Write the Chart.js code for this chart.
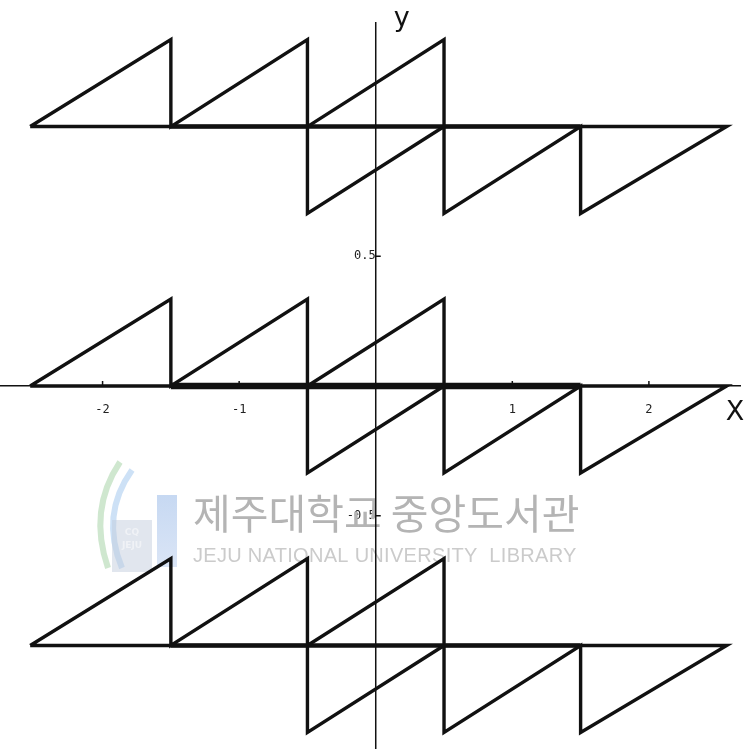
<!DOCTYPE html>
<html>
<head>
<meta charset="utf-8">
<title>Sawtooth rows</title>
<script src="https://cdn.jsdelivr.net/npm/chart.js@4.4.1/dist/chart.umd.min.js"></script>
<style>
  html, body { margin: 0; padding: 0; background: #fff; }
  #wrap { width: 745px; height: 749px; }
</style>
</head>
<body>
<div id="wrap"><canvas id="plot" width="745" height="749"></canvas></div>
<script>
// One row of the sawtooth, traced as a single path (x, offset from the row level)
const toothX = [-2.53, -1.5, -1.5, -0.5, -0.5, 0.5, 2.57, 1.5, 1.5, 0.5, 0.5, -0.5, -2.53];
const toothY = [0, 0.335, 0, 0.335, -0.335, 0, 0, -0.335, 0, -0.335, 0.335, 0, 0];

// Vertical level of each row
const rowLevels = [1, 0, -1];

// Overlapping baseline stretch in the middle of every row
const baseX = [-1.5, 1.5];

// Axis ticks
const xTicks = [-2, -1, 1, 2];
const yTicks = [0.5, -0.5];

const ink = '#111';

const datasets = [];
rowLevels.forEach(level => {
  datasets.push({
    data: toothX.map((x, i) => ({ x: x, y: level + toothY[i] })),
    showLine: true,
    borderColor: ink,
    borderWidth: 3.4,
    borderJoinStyle: 'miter',
    pointRadius: 0,
    tension: 0,
    clip: false
  });
  datasets.push({
    data: baseX.map(x => ({ x: x, y: level })),
    showLine: true,
    borderColor: ink,
    borderWidth: level === 0 ? 6.5 : 4.5,
    pointRadius: 0,
    clip: false
  });
});

// centred axes should not take any room away from the plot
function flatten(axis) {
  if (axis.isHorizontal()) axis.height = 0; else axis.width = 0;
  axis.paddingTop = axis.paddingBottom = axis.paddingLeft = axis.paddingRight = 0;
}

// Tick marks, axis letters and the library stamp behind the plot
const decorations = {
  id: 'decorations',
  beforeDatasetsDraw(chart) {
    const { ctx, chartArea, scales: { x, y } } = chart;
    const x0 = x.getPixelForValue(0);
    const y0 = y.getPixelForValue(0);

    // stamp
    ctx.save();
    ctx.globalAlpha = 0.5;
    const grad = ctx.createLinearGradient(0, 495, 0, 570);
    grad.addColorStop(0, '#8fb3e6');
    grad.addColorStop(1, '#b8cdee');
    ctx.fillStyle = grad;
    ctx.fillRect(157, 495, 20, 72);
    ctx.lineWidth = 6;
    ctx.strokeStyle = '#9fd0a0';
    ctx.beginPath();
    ctx.moveTo(120, 462);
    ctx.quadraticCurveTo(88, 510, 108, 568);
    ctx.stroke();
    ctx.strokeStyle = '#9cc4ee';
    ctx.beginPath();
    ctx.moveTo(132, 470);
    ctx.quadraticCurveTo(100, 515, 122, 568);
    ctx.stroke();
    ctx.fillStyle = '#c4cede';
    ctx.fillRect(112, 520, 40, 52);
    ctx.fillStyle = '#ffffff';
    ctx.font = 'bold 9px "DejaVu Sans"';
    ctx.textAlign = 'center';
    ctx.fillText('CQ', 132, 535);
    ctx.fillText('JEJU', 132, 548);
    ctx.globalAlpha = 1;
    ctx.textBaseline = 'middle';
    ctx.textAlign = 'left';
    ctx.fillStyle = '#b4b4b4';
    ctx.font = '41px "Noto Sans CJK KR"';
    ctx.fillText('제주대학교 중앙도서관', 193, 513);
    ctx.fillStyle = '#cbcbcb';
    ctx.font = '20px "Liberation Sans"';
    ctx.letterSpacing = '0.3px';
    ctx.fillText('JEJU NATIONAL UNIVERSITY  LIBRARY', 193, 556);
    ctx.restore();

    // y axis, carried on to the bottom edge of the page
    ctx.save();
    ctx.strokeStyle = ink;
    ctx.lineWidth = 1.5;
    ctx.beginPath();
    ctx.moveTo(x0, chartArea.top);
    ctx.lineTo(x0, chart.height);

    // tick marks
    xTicks.forEach(v => {
      const px = x.getPixelForValue(v);
      ctx.moveTo(px, y0);
      ctx.lineTo(px, y0 - 5);
    });
    yTicks.forEach(v => {
      const py = y.getPixelForValue(v);
      ctx.moveTo(x0, py);
      ctx.lineTo(x0 + 5, py);
    });
    ctx.stroke();

    // axis letters
    ctx.fillStyle = ink;
    ctx.font = '27px "DejaVu Sans"';
    ctx.textAlign = 'center';
    ctx.textBaseline = 'middle';
    ctx.fillText('y', x0 + 26, chartArea.top - 3);
    ctx.fillText('X', x.getPixelForValue(2.63), y0 + 27);
    ctx.restore();
  }
};

new Chart(document.getElementById('plot'), {
  type: 'scatter',
  data: { datasets: datasets },
  options: {
    responsive: false,
    animation: false,
    layout: { padding: { top: 22, right: 5, left: 0, bottom: 0 } },
    plugins: {
      legend: { display: false },
      tooltip: { enabled: false }
    },
    scales: {
      x: {
        type: 'linear',
        position: { y: 0 },
        min: -2.751,
        max: 2.667,
        afterBuildTicks: axis => { axis.ticks = xTicks.map(v => ({ value: v })); },
        afterFit: flatten,
        grid: { display: false, drawTicks: false },
        border: { display: true, color: ink, width: 1.5 },
        ticks: {
          color: '#222',
          padding: 17,
          maxRotation: 0,
          font: { family: '"DejaVu Sans Mono"', size: 12 },
          callback: v => String(v)
        }
      },
      y: {
        type: 'linear',
        position: { x: 0 },
        min: -1.399,
        max: 1.403,
        afterBuildTicks: axis => { axis.ticks = yTicks.map(v => ({ value: v })); },
        afterFit: flatten,
        grid: { display: false, drawTicks: false },
        border: { display: false },
        ticks: {
          color: '#222',
          padding: 19,
          font: { family: '"DejaVu Sans Mono"', size: 12 },
          callback: v => String(v)
        }
      }
    }
  },
  plugins: [decorations]
});
</script>
</body>
</html>
